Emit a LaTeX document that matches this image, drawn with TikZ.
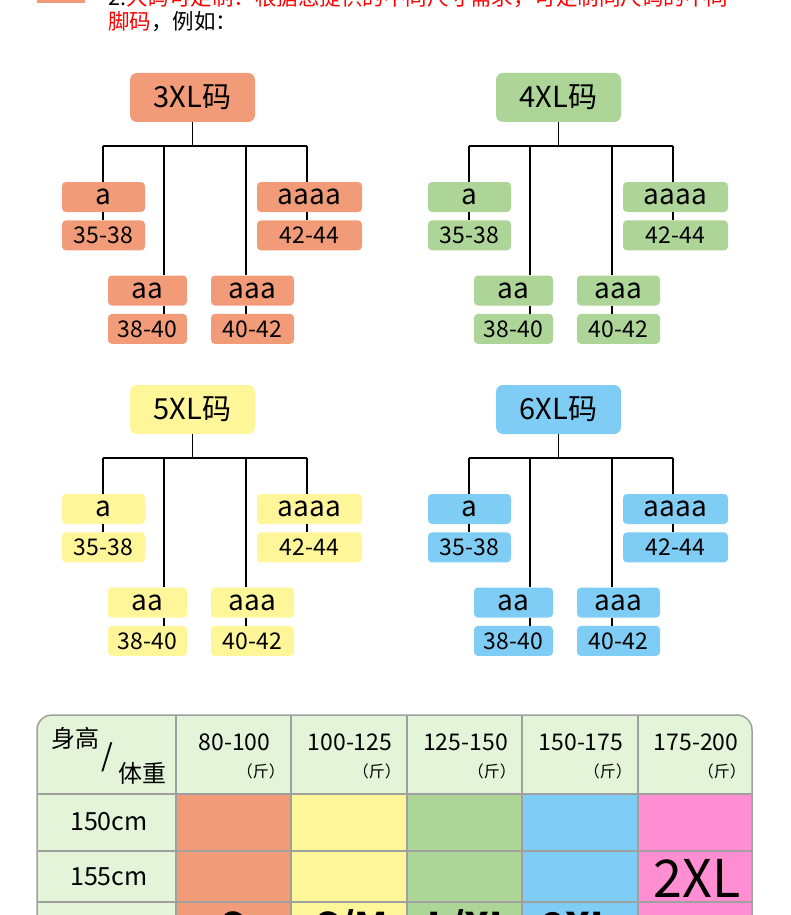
\documentclass[tikz,border=0pt]{standalone}
\usepackage{fontspec}
\setmainfont{Noto Sans CJK SC}
\usetikzlibrary{positioning}

\definecolor{szorange}{RGB}{242,155,120}
\definecolor{szgreen}{RGB}{174,213,152}
\definecolor{szyellow}{RGB}{255,246,153}
\definecolor{szblue}{RGB}{127,204,244}
\definecolor{szpink}{RGB}{255,143,210}
\definecolor{headgreen}{RGB}{228,244,216}
\definecolor{gridgray}{RGB}{160,160,160}
\definecolor{titlered}{RGB}{255,0,0}

\begin{document}
\begin{tikzpicture}[x=1pt, y=-1pt,
rootbox/.style={rounded corners=7pt, minimum width=125pt, minimum height=49pt, inner sep=0pt, font=\fontsize{29}{31}\selectfont},
keybox/.style={rounded corners=4pt, minimum height=30pt, inner sep=0pt, font=\fontsize{28}{30}\selectfont},
rangebox/.style={keybox, font=\fontsize{23}{25}\selectfont},
link/.style={line width=1.2pt},
gridline/.style={draw=gridgray, line width=1.5pt},
headnum/.style={inner sep=0pt, font=\fontsize{23}{25}\selectfont},
unitlabel/.style={inner sep=0pt, font=\fontsize{16}{18}\selectfont},
rowlabel/.style={inner sep=0pt, font=\fontsize{25}{27}\selectfont},
sizelabel/.style={inner sep=0pt, font=\bfseries\fontsize{38}{40}\selectfont}
]
\clip (0,0) rectangle (790,915);
\fill[white] (0,0) rectangle (790,915);

% heading text, cut at the top
\fill[szorange] (37,0) rectangle (85,3);
\node[anchor=base west, inner sep=0pt, font=\fontsize{21.5}{23}\selectfont] (line1) at (108,6)
  {2.\textcolor{titlered}{大码可定制：根据您提供的不同尺寸需求，可定制同尺码的不同}};
\node[anchor=base west, inner sep=0pt, font=\fontsize{21.5}{23}\selectfont] (line2) at (108,30)
  {\textcolor{titlered}{脚码}，例如：};

% the four size trees
\foreach \nm/\dx/\dy/\col in {3/0/0/szorange, 4/366/0/szgreen, 5/0/312/szyellow, 6/366/312/szblue}{
\begin{scope}[shift={(\dx,\dy)}]
  \node[rootbox, fill=\col] (root\nm) at (192.5,97.5) {\nm XL码};
  \node[keybox, fill=\col, minimum width=83pt] (ka\nm) at (103.5,197) {a};
  \node[keybox, fill=\col, minimum width=79pt] (kb\nm) at (147.5,290.5) {aa};
  \node[keybox, fill=\col, minimum width=83pt] (kc\nm) at (252.5,290.5) {aaa};
  \node[keybox, fill=\col, minimum width=105pt] (kd\nm) at (309.5,197) {aaaa};
  \node[rangebox, fill=\col, minimum width=83pt, below=8pt of ka\nm] (ra\nm) {35-38};
  \node[rangebox, fill=\col, minimum width=79pt, below=8pt of kb\nm] (rb\nm) {38-40};
  \node[rangebox, fill=\col, minimum width=83pt, below=8pt of kc\nm] (rc\nm) {40-42};
  \node[rangebox, fill=\col, minimum width=105pt, below=8pt of kd\nm] (rd\nm) {42-44};
  \coordinate (ba\nm) at (103,146);
  \coordinate (bb\nm) at (164,146);
  \coordinate (bc\nm) at (246,146);
  \coordinate (bd\nm) at (307,146);
  \draw[link] (root\nm.south) -- (root\nm.south |- ba\nm);
  \draw[link] (ba\nm) -- (bd\nm);
  \foreach \k in {a,b,c,d}
    \draw[link] (b\k\nm) -- (b\k\nm |- k\k\nm.north)
                (b\k\nm |- k\k\nm.south) -- (b\k\nm |- r\k\nm.north);
\end{scope}}

% size table
\fill[headgreen, rounded corners=15pt] (37,960) -- (37,715) -- (752,715) -- (752,960);
\foreach \xa/\xb/\col/\rng in {176/291/szorange/80-100, 291/407/szyellow/100-125,
    407/522/szgreen/125-150, 522/638/szblue/150-175, 638/752/szpink/175-200}{
  \fill[\col] (\xa,794) rectangle (\xb,960);
  \node[headnum] (h\xb) at ({(\xa+\xb)/2+1},742) {\rng};
  \node[unitlabel, anchor=east] (u\xb) at (\xb-6,771) {（斤）};
  \draw[gridline] (\xa,715) -- (\xa,960);
}
\foreach \yy in {794,851,902}
  \draw[gridline] (37,\yy) -- (752,\yy);
\draw[gridline, rounded corners=15pt] (37,960) -- (37,715) -- (752,715) -- (752,960);

\node[inner sep=0pt, font=\fontsize{24}{26}\selectfont] (height) at (75,738) {身高};
\node[inner sep=0pt, font=\fontsize{30}{32}\selectfont] (slash) at (107,757) {/};
\node[inner sep=0pt, font=\fontsize{24}{26}\selectfont] (weight) at (142,773) {体重};
\node[rowlabel] (r150) at (109,822) {150cm};
\node[rowlabel] (r155) at (109,877) {155cm};
\node[inner sep=0pt, font=\fontsize{52}{54}\selectfont] (big2xl) at (697,878) {2XL};

\node[sizelabel, anchor=base] (sS) at (233,940) {S};
\node[sizelabel, anchor=base] (sSM) at (352,940) {S/M};
\node[sizelabel, anchor=base] (sLXL) at (470,940) {L/XL};
\node[sizelabel, anchor=base] (sXXL) at (578,940) {2XL};
\end{tikzpicture}
\end{document}
